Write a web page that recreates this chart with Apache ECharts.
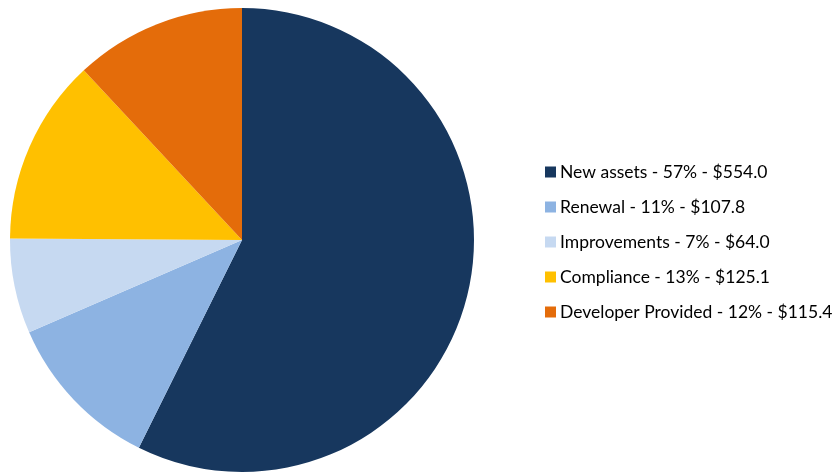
<!DOCTYPE html>
<html>
<head>
<meta charset="utf-8">
<style>
  html, body { margin: 0; padding: 0; background: #ffffff; }
  #chart { width: 832px; height: 472px; }
</style>
<script src="https://cdn.jsdelivr.net/npm/echarts@6/dist/echarts.min.js"></script>
</head>
<body>
<div id="chart"></div>
<script>
// Capital spend by category ($ millions)
const categories = ['New assets', 'Renewal', 'Improvements', 'Compliance', 'Developer Provided'];
const amounts = [554.0, 107.8, 64.0, 125.1, 115.4];
const colors = ['#17375E', '#8DB3E2', '#C6D9F1', '#FFC000', '#E46C0A'];

const total = amounts.reduce((a, b) => a + b, 0);
const legendText = {};
categories.forEach((c, i) => {
  const pct = Math.round(amounts[i] / total * 100);
  legendText[c] = c + ' - ' + pct + '% - $' + amounts[i].toFixed(1);
});

const chart = echarts.init(document.getElementById('chart'), null, { renderer: 'canvas' });
chart.setOption({
  animation: false,
  color: colors,
  legend: {
    orient: 'vertical',
    left: 545,
    top: 163,
    padding: 0,
    icon: 'rect',
    itemWidth: 11,
    itemHeight: 11,
    itemGap: 17,
    selectedMode: false,
    formatter: name => legendText[name],
    textStyle: {
      fontFamily: 'Lato',
      fontSize: 17.5,
      lineHeight: 17,
      color: '#000000',
      padding: [0, 0, 0, -1]
    },
    data: categories
  },
  series: [{
    type: 'pie',
    center: [242, 240],
    radius: 232,
    startAngle: 90,
    clockwise: true,
    label: { show: false },
    labelLine: { show: false },
    emphasis: { disabled: true },
    itemStyle: { borderWidth: 0 },
    data: categories.map((c, i) => ({ name: c, value: amounts[i] }))
  }]
});
</script>
</body>
</html>
